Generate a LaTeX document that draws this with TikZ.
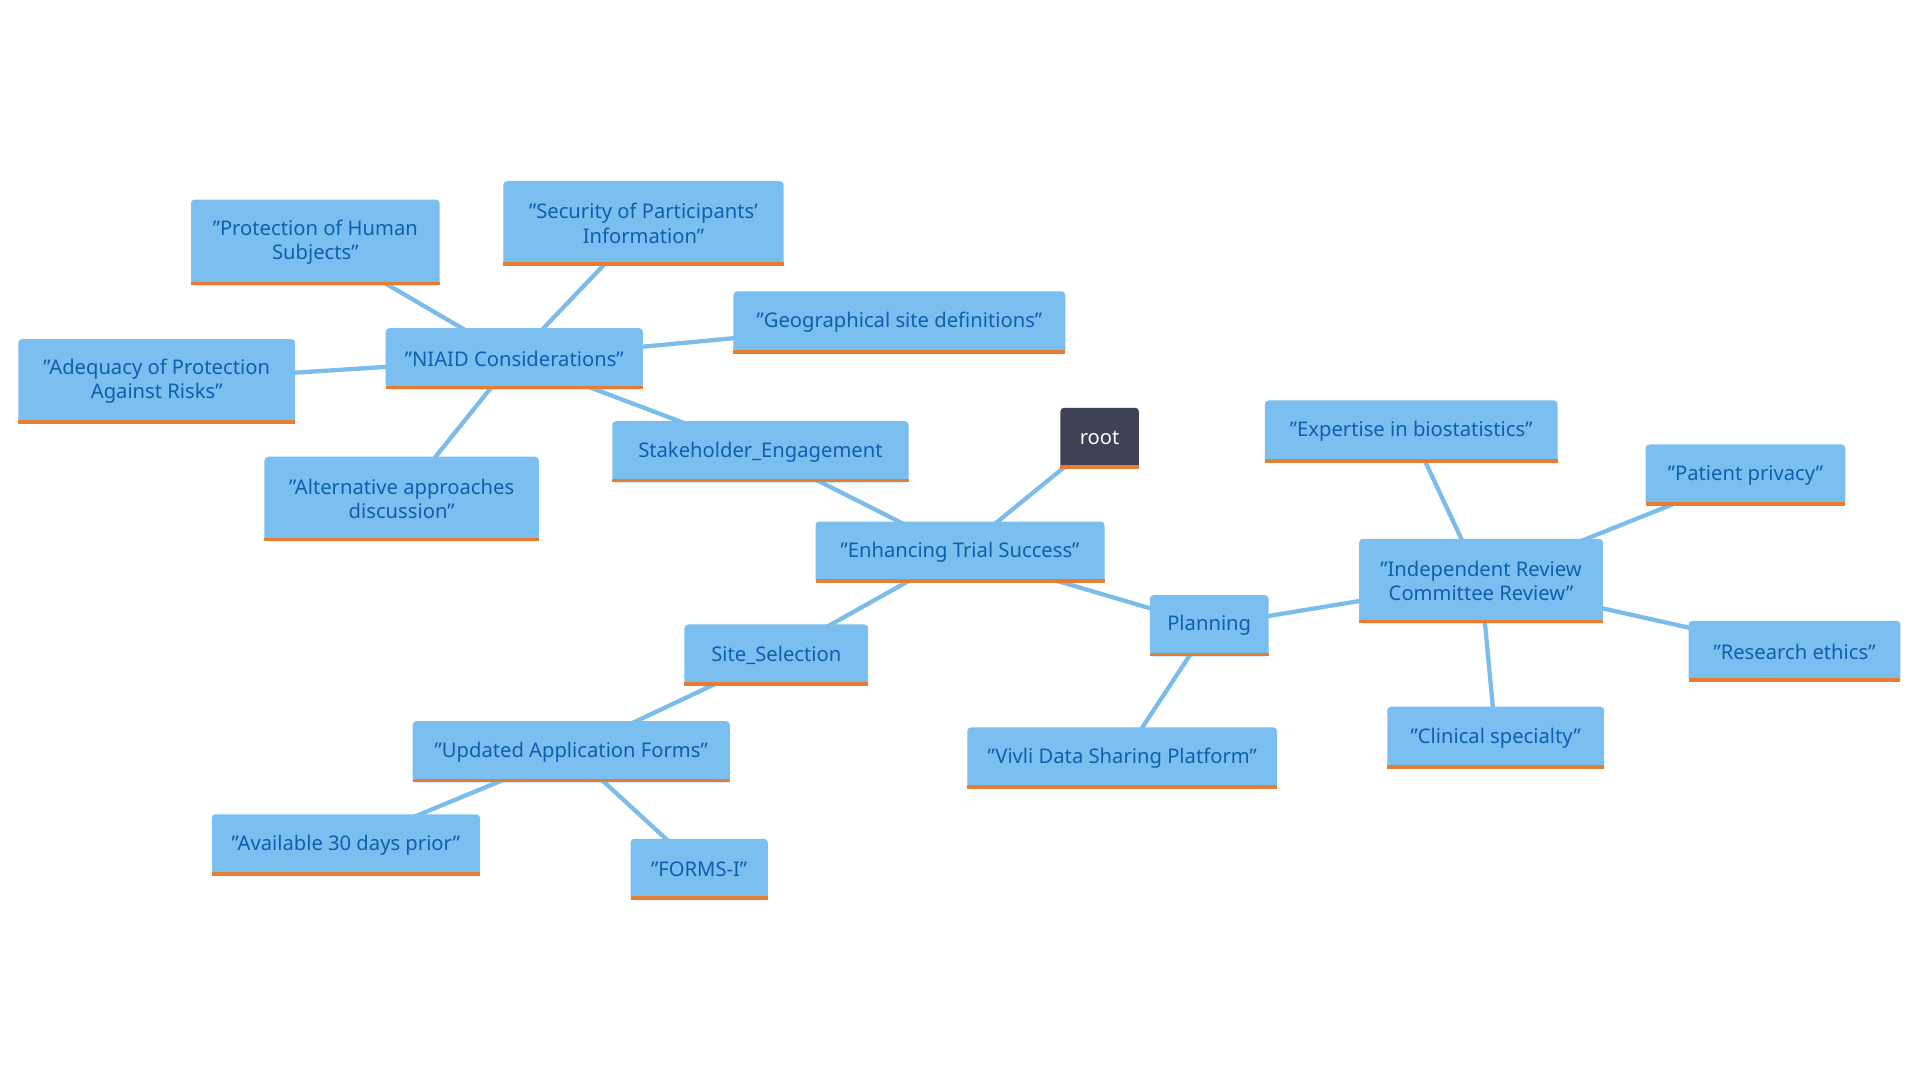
\documentclass[tikz,border=0pt]{standalone}
\usepackage{fontspec}
\setmainfont{Noto Sans}
\usetikzlibrary{backgrounds}
\definecolor{bfill}{HTML}{7BBFF0}
\definecolor{btext}{HTML}{0F5FAF}
\definecolor{bor}{HTML}{E57E32}
\definecolor{rootc}{HTML}{3F4257}
\definecolor{edge}{HTML}{7BBCEB}
\tikzset{
 box/.style={fill=bfill, text=btext, rounded corners=3pt, align=center, inner sep=0pt, font=\fontsize{16.5}{20}\selectfont},
 rootbox/.style={box, fill=rootc, text=white},
 link/.style={draw=edge, line width=3.5pt}
}
\newcommand{\bx}[7][box]{%
 \node[#1, minimum width={#5-#3}, minimum height={#6-#4}] (#2) at ({(#3+#5)/2},{(#4+#6)/2}) {#7};
 \fill[bor] (#3,#6-3) rectangle (#5,#6);}
\begin{document}
\begin{tikzpicture}[x=1pt,y=-1pt]
\useasboundingbox (0,0) rectangle (1568,882);
\bx[rootbox]{root}{866}{333}{930}{383}{root}
\bx{enh}{666}{426}{902}{476}{"Enhancing Trial Success"}
\bx{stk}{500}{344}{742}{394}{Stakeholder\_Engagement}
\bx{site}{559}{510}{709}{560}{Site\_Selection}
\bx{plan}{939}{486}{1036}{536}{Planning}
\bx{niaid}{315}{268}{525}{318}{"NIAID Considerations"}
\bx{prot}{156}{163}{359}{233}{"Protection of Human\\Subjects"}
\bx{sec}{411}{148}{640}{217}{"Security of Participants'\\Information"}
\bx{geo}{599}{238}{870}{289}{"Geographical site definitions"}
\bx{adeq}{15}{277}{241}{346}{"Adequacy of Protection\\Against Risks"}
\bx{alt}{216}{373}{440}{442}{"Alternative approaches\\discussion"}
\bx{upd}{337}{589}{596}{639}{"Updated Application Forms"}
\bx{avail}{173}{665}{392}{715}{"Available 30 days prior"}
\bx{forms}{515}{685}{627}{735}{"FORMS-I"}
\bx{vivli}{790}{594}{1043}{644}{"Vivli Data Sharing Platform"}
\bx{irc}{1110}{440}{1309}{509}{"Independent Review\\Committee Review"}
\bx{exp}{1033}{327}{1272}{378}{"Expertise in biostatistics"}
\bx{pat}{1344}{363}{1507}{413}{"Patient privacy"}
\bx{res}{1379}{507}{1552}{557}{"Research ethics"}
\bx{clin}{1133}{577}{1310}{628}{"Clinical specialty"}
\begin{scope}[on background layer]
\foreach \a/\b in {root/enh,enh/stk,enh/site,enh/plan,stk/niaid,niaid/prot,niaid/sec,niaid/geo,niaid/adeq,niaid/alt,site/upd,upd/avail,upd/forms,plan/vivli,plan/irc,irc/exp,irc/pat,irc/res,irc/clin}
 \draw[link] (\a.center) -- (\b.center);
\end{scope}
\end{tikzpicture}
\end{document}
